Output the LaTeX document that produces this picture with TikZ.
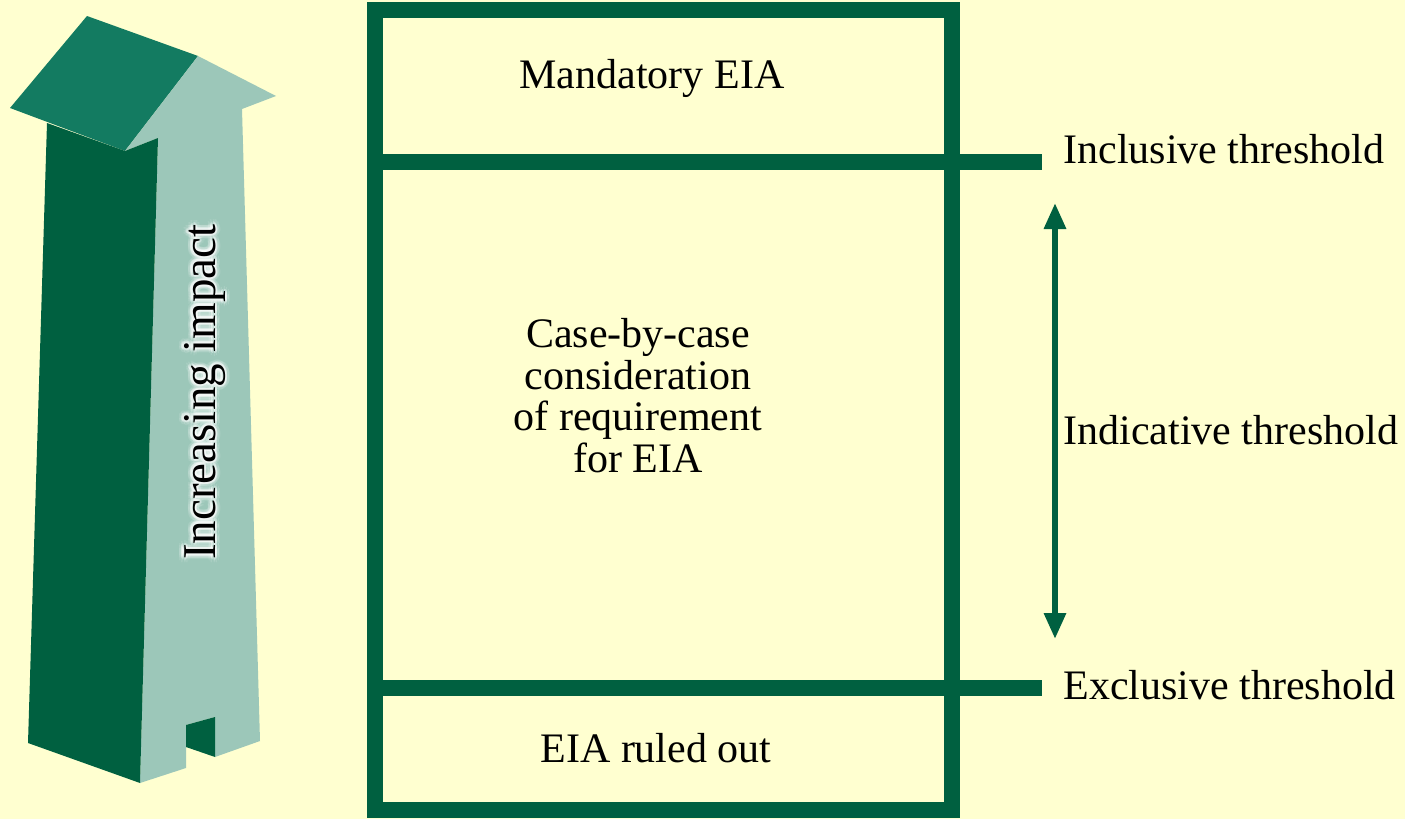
\documentclass[tikz,border=0pt]{standalone}
\usepackage{fontspec}
\setmainfont{Liberation Serif}
\usetikzlibrary{arrows.meta,positioning}
\definecolor{bgyellow}{RGB}{255,255,208}
\definecolor{darkgreen}{RGB}{0,96,64}
\definecolor{midgreen}{RGB}{19,123,97}
\definecolor{palegreen}{RGB}{156,199,185}
\newcommand{\lblfont}{\fontsize{21}{20.7}\selectfont}
\newcommand{\impactfont}{\fontsize{23.5}{28}\selectfont}

\begin{document}
\begin{tikzpicture}[x=0.5pt, y=-0.5pt,
    frame/.style={darkgreen, line width=8pt},
    lbl/.style={font=\lblfont, inner sep=0pt},
    glowtext/.style={rotate=90, anchor=base, white, font=\impactfont, inner sep=0pt}]
        %background
        \fill[bgyellow] (0,0) rectangle (1405,819);
        \useasboundingbox (0,0) rectangle (1405,819);
        %big arrow
        \fill[midgreen] (87,16) -- (198,56) -- (125,151) -- (10,108) -- cycle;
        \fill[palegreen] (198,56) -- (276,96) -- (242,109) -- (260,741) -- (215,757) -- (215,717)
            -- (186,725) -- (186,768) -- (140,783) -- (158,138) -- (125,151) -- cycle;
        \fill[darkgreen] (47,123) -- (125,151) -- (158,138) -- (140,783) -- (28,743) -- cycle;
        \fill[darkgreen] (186,725) -- (215,717) -- (215,757) -- (186,747) -- cycle;
        \foreach \a in {0,30,...,330}{
            \path (215,392) ++(\a:5) node[glowtext, opacity=0.12] (glowout\a) {Increasing impact};
            \path (215,392) ++(\a:2.5) node[glowtext, opacity=0.3] (glowin\a) {Increasing impact};
        }
        \node[rotate=90, anchor=base, font=\impactfont, inner sep=0pt] (impact) at (215,392) {Increasing impact};
        %box
        \coordinate (tl) at (375,10);
        \coordinate (br) at (952,810);
        \coordinate (incl) at (1042,162);
        \coordinate (excl) at (1042,688);
        \draw[frame] (tl) rectangle (br);
        \draw[frame] (tl |- incl) -- (incl);
        \draw[frame] (tl |- excl) -- (excl);
        %texts
        \node[lbl, anchor=base] (mandatory) at (652,89) {Mandatory EIA};
        \node[lbl, anchor=base, align=center] (casebycase) at (638,472) {Case-by-case\\consideration\\of requirement\\for EIA};
        \node[lbl, anchor=base] (ruledout) at (656,762) {EIA ruled out};
        \node[lbl, anchor=base west] (inclusive) at (1063,163) {Inclusive threshold};
        \node[lbl, anchor=base west] (indicative) at (1063,444) {Indicative threshold};
        \node[lbl, anchor=base west] (exclusive) at (1063,699) {Exclusive threshold};
        %double arrow
        \coordinate (uptip) at (1055,203);
        \coordinate (downtip) at (1055,639);
        \path [draw, darkgreen, line width=3pt, {Triangle[length=13pt,width=10.5pt]}-{Triangle[length=13pt,width=10.5pt]}] (uptip) -- (downtip);
\end{tikzpicture}
\end{document}
